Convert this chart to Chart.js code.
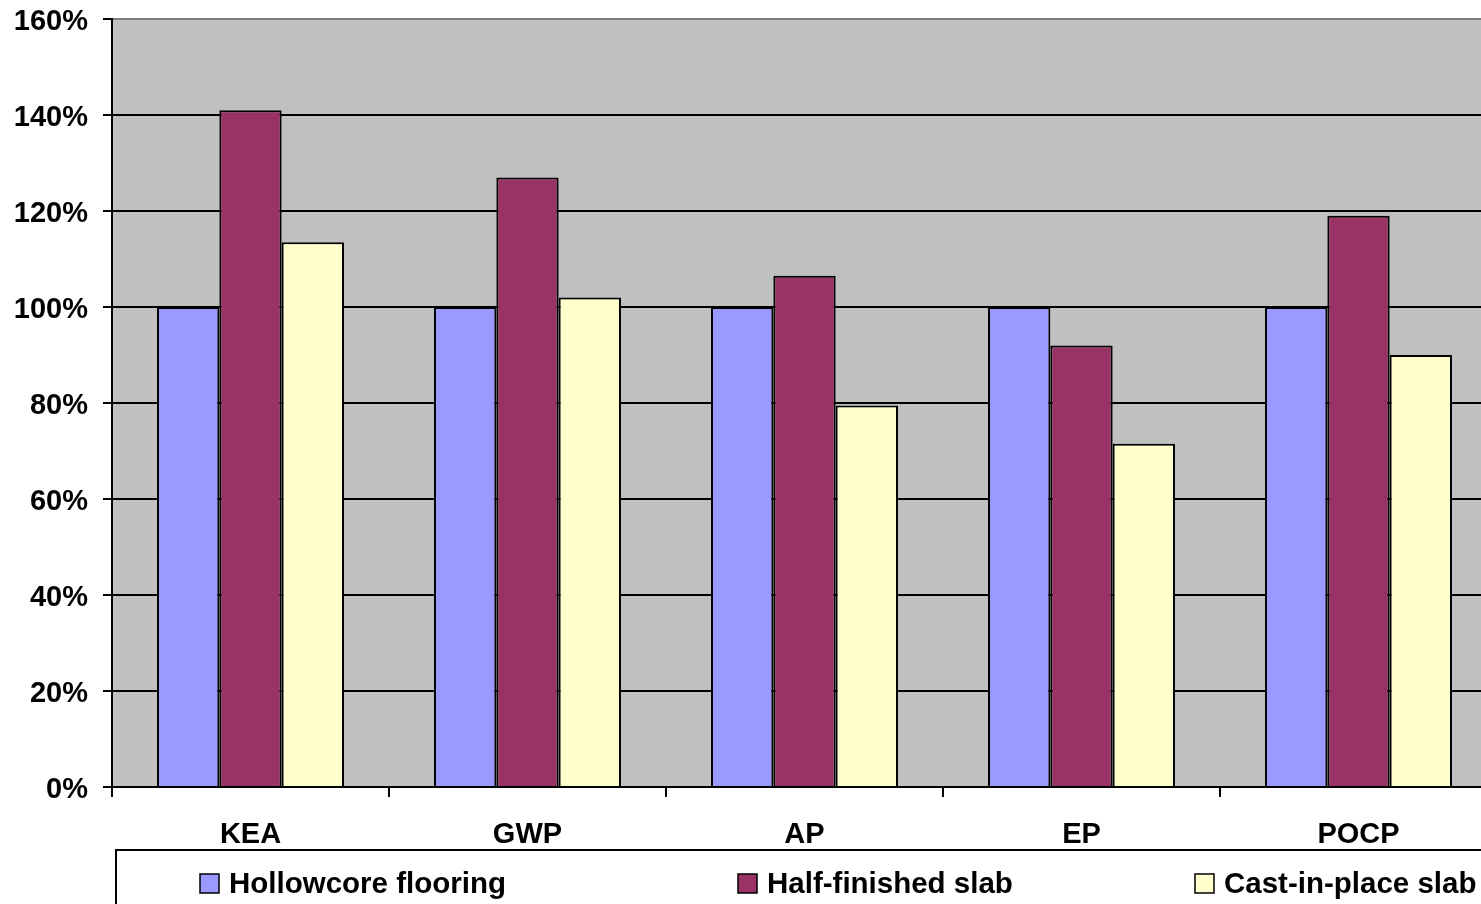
<!DOCTYPE html>
<html>
<head>
<meta charset="utf-8">
<title>Environmental impact of floor systems</title>
<script src="https://cdn.jsdelivr.net/npm/chart.js@4.4.1/dist/chart.umd.min.js"></script>
<style>
  html, body { margin: 0; padding: 0; background: #fff; overflow: hidden; }
  #wrap { position: absolute; left: 0; top: 0; width: 1500px; height: 904px; }
</style>
</head>
<body>
<div id="wrap"><canvas id="chart" width="1500" height="904"></canvas></div>
<script>
// Impact categories and relative results (hollowcore flooring = 100%)
const categories = ['KEA', 'GWP', 'AP', 'EP', 'POCP'];
const hollowcore = [100, 100, 100, 100, 100];
const halfFinished = [141, 127, 106.5, 92, 119];
const castInPlace = [113.5, 102, 79.5, 71.5, 90];
const yTicks = [0, 20, 40, 60, 80, 100, 120, 140, 160];

const FONT = '"Liberation Sans", Arial, Helvetica, sans-serif';

// Grey plot area with a thin frame
const plotBackground = {
  id: 'plotBackground',
  beforeDraw(chart) {
    const { ctx, chartArea: a } = chart;
    ctx.save();
    ctx.fillStyle = '#C0C0C0';
    ctx.fillRect(a.left, a.top, a.right - a.left, a.bottom - a.top);
    ctx.restore();
  },
  afterDraw(chart) {
    const { ctx, chartArea: a } = chart;
    ctx.save();
    ctx.strokeStyle = '#808080';
    ctx.lineWidth = 2;
    ctx.beginPath();
    ctx.moveTo(a.left + 1, a.top);
    ctx.lineTo(a.right, a.top);
    ctx.stroke();
    ctx.restore();
  }
};

// Framed legend row under the category axis
const boxedLegend = {
  id: 'boxedLegend',
  afterDraw(chart, args, opts) {
    const { ctx } = chart;
    ctx.save();
    ctx.strokeStyle = '#000';
    ctx.lineWidth = 2;
    ctx.strokeRect(opts.left, opts.top, chart.width - opts.left + 10, 100);
    ctx.font = 'bold 29.5px ' + FONT;
    ctx.textBaseline = 'middle';
    ctx.textAlign = 'left';
    chart.data.datasets.forEach((ds, i) => {
      const x = opts.itemX[i];
      const y = opts.itemY;
      ctx.fillStyle = ds.backgroundColor;
      ctx.fillRect(x, y - 9, 19, 19);
      ctx.lineWidth = 1.5;
      ctx.strokeStyle = '#000';
      ctx.strokeRect(x, y - 9, 19, 19);
      ctx.fillStyle = '#000';
      ctx.fillText(ds.label, x + 29, y + 2);
    });
    ctx.restore();
  }
};

new Chart(document.getElementById('chart'), {
  type: 'bar',
  data: {
    labels: categories,
    datasets: [
      { label: 'Hollowcore flooring', data: hollowcore, backgroundColor: '#9999FF' },
      { label: 'Half-finished slab', data: halfFinished, backgroundColor: '#993366' },
      { label: 'Cast-in-place slab', data: castInPlace, backgroundColor: '#FFFFCC' }
    ]
  },
  plugins: [plotBackground, boxedLegend],
  options: {
    responsive: false,
    animation: false,
    layout: { padding: { top: 19, right: 3, bottom: 0, left: 0 } },
    datasets: {
      bar: {
        borderColor: '#000',
        borderWidth: 2,
        categoryPercentage: 0.675,
        barPercentage: 1.0
      }
    },
    plugins: {
      legend: { display: false },
      tooltip: { enabled: false },
      boxedLegend: { left: 116, top: 850, itemX: [200, 738, 1195], itemY: 883 }
    },
    scales: {
      x: {
        afterFit(scale) { scale.height = 117; },
        grid: { drawOnChartArea: false, color: '#000', lineWidth: 2, tickLength: 10, offset: true },
        border: { color: '#000', width: 2 },
        ticks: { color: '#000', padding: 21, font: { family: FONT, size: 29, weight: 'bold' } }
      },
      y: {
        min: 0,
        max: 160,
        afterFit(scale) {
          scale.width = 112;
          scale.paddingTop = 0;
          scale.paddingBottom = 0;
        },
        afterBuildTicks(scale) { scale.ticks = yTicks.map(v => ({ value: v })); },
        grid: { color: '#000', lineWidth: 2, tickLength: 9 },
        border: { color: '#000', width: 2 },
        ticks: {
          color: '#000',
          padding: 15,
          labelOffset: 3,
          font: { family: FONT, size: 29, weight: 'bold' },
          callback: v => v + '%'
        }
      }
    }
  }
});
</script>
</body>
</html>
